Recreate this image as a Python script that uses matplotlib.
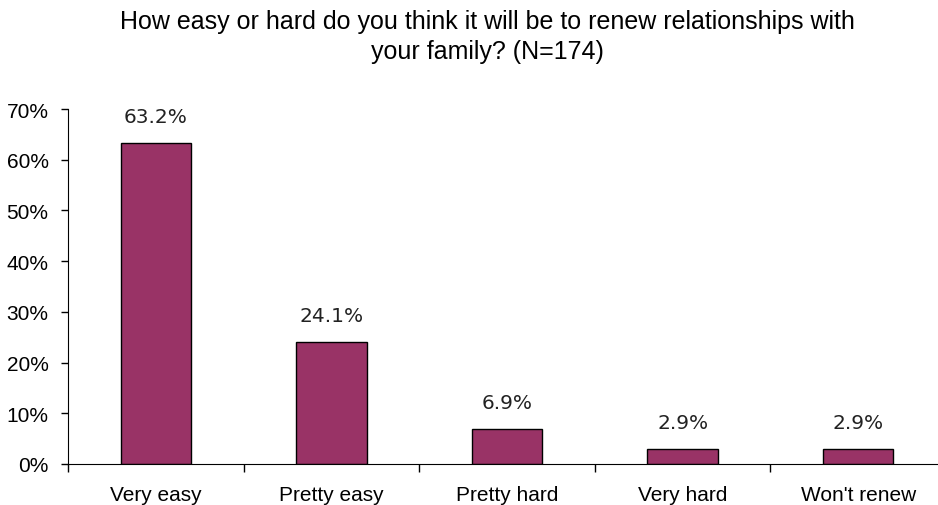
import matplotlib.pyplot as plt
from matplotlib.ticker import FixedLocator, PercentFormatter

categories = ['Very easy', 'Pretty easy', 'Pretty hard', 'Very hard', "Won't renew"]
values = [63.2, 24.1, 6.9, 2.9, 2.9]
labels = ['63.2%', '24.1%', '6.9%', '2.9%', '2.9%']

BAR_COLOR = '#993366'

fig = plt.figure(figsize=(9.38, 5.06), dpi=100, facecolor='white')
ax = fig.add_axes([68 / 938, 41 / 506, 878 / 938, 355 / 506])

x = list(range(len(categories)))
ax.bar(x, values, width=0.4, color=BAR_COLOR, edgecolor='black', linewidth=1)

for xi, v, lab in zip(x, values, labels):
    ax.text(xi, v + 3.4, lab, ha='center', va='bottom', fontsize=14.5,
            family='DejaVu Sans', color='#222222')

ax.set_xlim(-0.5, len(categories) - 0.5)
ax.set_ylim(0, 70)
ax.set_yticks(range(0, 71, 10))
ax.yaxis.set_major_formatter(PercentFormatter(decimals=0))
ax.set_xticks(x)
ax.set_xticklabels(categories)
ax.xaxis.set_minor_locator(FixedLocator([i - 0.5 for i in range(len(categories) + 1)]))
ax.tick_params(axis='x', which='major', length=0, pad=15, labelsize=15)
ax.tick_params(axis='x', which='minor', length=6, width=1)
ax.tick_params(axis='y', length=5, width=1, labelsize=15, pad=9)
for lab in ax.get_xticklabels() + ax.get_yticklabels():
    lab.set_family('Liberation Sans')

ax.spines['top'].set_visible(False)
ax.spines['right'].set_visible(False)

fig.text(487 / 938, 1 - 37 / 506,
         'How easy or hard do you think it will be to renew relationships with\nyour family? (N=174)',
         ha='center', va='center', fontsize=18, family='Liberation Sans',
         linespacing=1.3)

fig.savefig('out.png', dpi=100, facecolor='white')
